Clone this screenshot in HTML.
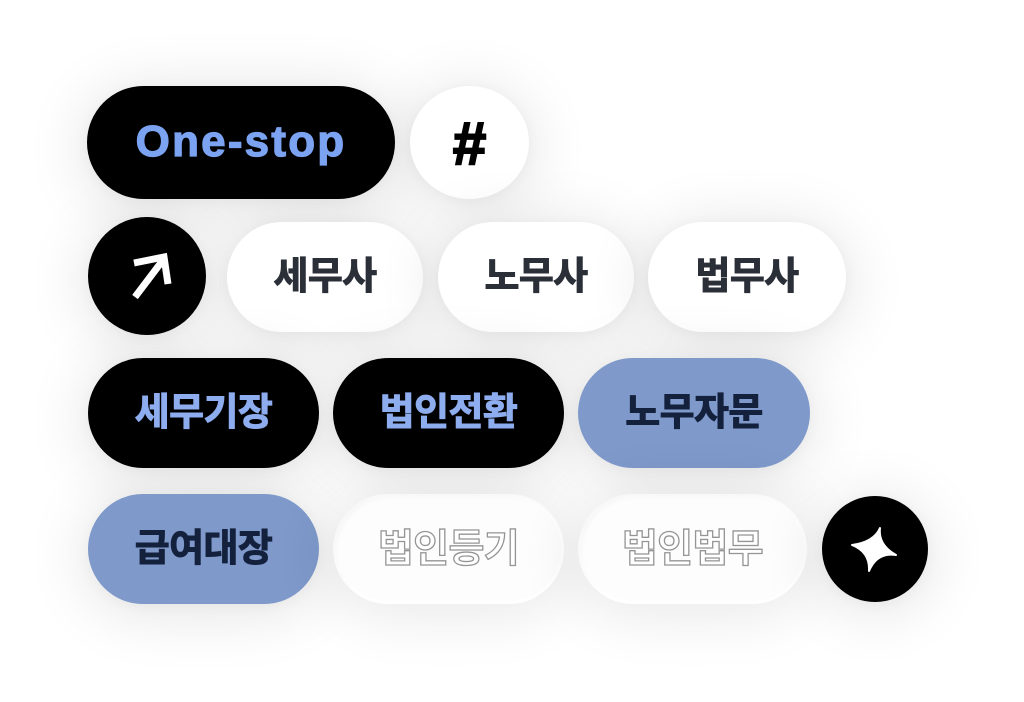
<!DOCTYPE html>
<html>
<head>
<meta charset="utf-8">
<style>
  html,body{margin:0;padding:0;}
  body{width:1024px;height:702px;background:#ffffff;position:relative;overflow:hidden;
    font-family:"Liberation Sans","Noto Sans CJK KR",sans-serif;}
  .el{position:absolute;display:flex;align-items:center;justify-content:center;
    border-radius:60px;box-shadow:0 6px 60px 6px rgba(0,0,0,0.10), 0 2px 14px rgba(0,0,0,0.04);}
  .k{font-family:"Liberation Sans","Noto Sans CJK KR",sans-serif;font-weight:700;font-size:38px;letter-spacing:-0.6px;line-height:1;}
  .black{background:#000;}
  .white{background:#fff;}
  .blue{background:#7e99ca;}
  .tb{color:#8eadef;-webkit-text-stroke:1px #8eadef;}
  .td{color:#2b2f38;-webkit-text-stroke:1px #2b2f38;}
  .tn{color:#14213d;-webkit-text-stroke:1px #14213d;}
  .outline{background:#fdfdfd;
    box-shadow:0 6px 60px 6px rgba(0,0,0,0.09), inset 3px 3px 5px rgba(0,0,0,0.035), inset 0 0 0 3px #ffffff;}
  .to{color:#ffffff;-webkit-text-stroke:1.3px #959595;font-size:39px;}
</style>
</head>
<body>
  <!-- Row 1 -->
  <div class="el black" style="left:87px;top:86px;width:308px;height:113px;border-radius:57px;">
    <span style="font-family:'Liberation Sans',sans-serif;font-weight:700;font-size:44px;letter-spacing:2.2px;color:#7ba3f1;-webkit-text-stroke:1.2px #7ba3f1;margin-top:-2px;">One-stop</span>
  </div>
  <div class="el white" style="left:410px;top:86px;width:119px;height:113px;border-radius:50%;">
    <span style="font-family:'Liberation Sans',sans-serif;font-weight:700;font-size:60px;color:#000;-webkit-text-stroke:2px #000;line-height:1;margin-top:2px;">#</span>
  </div>

  <!-- Row 2 -->
  <div class="el black" style="left:88px;top:217px;width:118px;height:118px;border-radius:50%;">
    <svg width="118" height="118" viewBox="0 0 118 118" style="position:absolute;left:0;top:0;">
      <line x1="47" y1="80" x2="75" y2="43" stroke="#fff" stroke-width="7"/>
      <polyline points="46,46 76,40 80,67" fill="none" stroke="#fff" stroke-width="7" stroke-linejoin="miter"/>
    </svg>
  </div>
  <div class="el white" style="left:227px;top:222px;width:196px;height:110px;border-radius:55px;">
    <span class="k td">세무사</span>
  </div>
  <div class="el white" style="left:438px;top:222px;width:196px;height:110px;border-radius:55px;">
    <span class="k td">노무사</span>
  </div>
  <div class="el white" style="left:648px;top:222px;width:198px;height:110px;border-radius:55px;">
    <span class="k td">법무사</span>
  </div>

  <!-- Row 3 -->
  <div class="el black" style="left:88px;top:358px;width:231px;height:110px;border-radius:55px;">
    <span class="k tb">세무기장</span>
  </div>
  <div class="el black" style="left:333px;top:358px;width:231px;height:110px;border-radius:55px;">
    <span class="k tb">법인전환</span>
  </div>
  <div class="el blue" style="left:578px;top:358px;width:232px;height:110px;border-radius:55px;">
    <span class="k tn">노무자문</span>
  </div>

  <!-- Row 4 -->
  <div class="el blue" style="left:88px;top:494px;width:231px;height:110px;border-radius:55px;">
    <span class="k tn">급여대장</span>
  </div>
  <div class="el outline" style="left:333px;top:494px;width:231px;height:110px;border-radius:55px;">
    <span class="k to">법인등기</span>
  </div>
  <div class="el outline" style="left:578px;top:494px;width:229px;height:110px;border-radius:55px;">
    <span class="k to">법인법무</span>
  </div>
  <div class="el black" style="left:822px;top:496px;width:106px;height:106px;border-radius:50%;">
    <svg width="106" height="106" viewBox="0 0 106 106" style="position:absolute;left:0;top:0;">
      <path d="M58,32 Q56,49 74,59 Q55,56 47,75 Q48,56 30,49 Q52,46 58,32 Z" fill="#fff" stroke="#fff" stroke-width="2" stroke-linejoin="round"/>
    </svg>
  </div>
</body>
</html>
